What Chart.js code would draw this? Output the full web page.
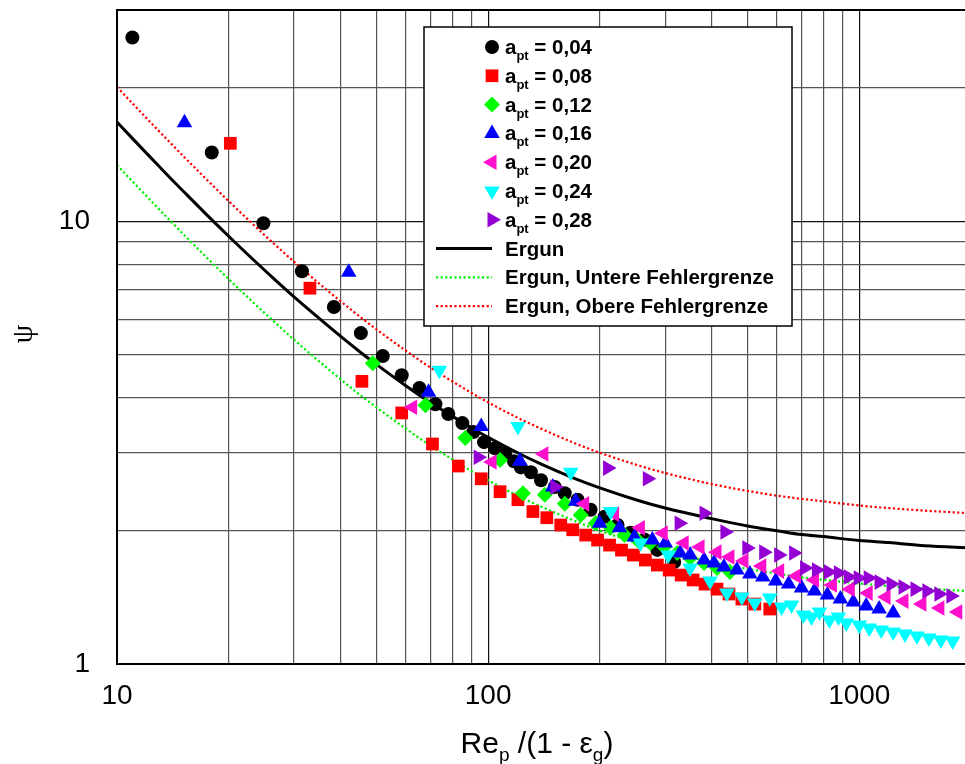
<!DOCTYPE html>
<html>
<head>
<meta charset="utf-8">
<script src="https://cdn.jsdelivr.net/npm/chart.js@4.4.1/dist/chart.umd.min.js"></script>
<style>
html, body { margin: 0; padding: 0; background: #fff; overflow: hidden; }
#wrap { width: 965px; height: 764px; overflow: hidden; }
canvas { display: block; }
</style>
</head>
<body>
<div id="wrap"><canvas id="chart" width="980" height="764"></canvas></div>
<script>
// Druckverlust-Beiwert psi über Re_p/(1 - eps_g)

const re004 = [11.0, 18.0, 24.8, 31.5, 38.4, 45.4, 52.0, 58.5, 65.3, 72.1, 78.1, 85.2, 91.2, 97.5, 104.4, 111.1, 117.4, 122.5, 130.4, 138.8, 151.2, 160.8, 174.2, 188.8, 205.9, 223.2, 241.8, 263.6, 285.6, 317.2];
const psi004 = [26.0, 14.3, 9.9, 7.71, 6.40, 5.59, 4.96, 4.49, 4.20, 3.86, 3.67, 3.50, 3.34, 3.17, 3.07, 2.99, 2.87, 2.78, 2.71, 2.60, 2.51, 2.43, 2.35, 2.23, 2.15, 2.06, 1.98, 1.91, 1.81, 1.70];

const re008 = [20.2, 33.1, 45.7, 58.5, 70.8, 83.1, 95.8, 107.7, 120.3, 132.0, 143.9, 156.9, 169.0, 183.2, 197.2, 212.4, 228.7, 246.3, 265.2, 285.7, 307.5, 331.2, 356.7, 384.2, 413.7, 445.6, 482.7, 523.0, 573.8];
const psi008 = [15.0, 7.06, 4.35, 3.69, 3.14, 2.80, 2.62, 2.45, 2.35, 2.21, 2.14, 2.06, 2.01, 1.955, 1.905, 1.856, 1.808, 1.762, 1.717, 1.673, 1.630, 1.588, 1.548, 1.515, 1.476, 1.439, 1.402, 1.366, 1.331];

const re012 = [48.9, 67.8, 86.8, 107.7, 124.1, 142.2, 160.9, 177.6, 194.8, 213.8, 233.0, 252.5, 273.5, 298.2, 323.1, 350.2, 381.7, 413.7, 448.3];
const psi012 = [4.78, 3.84, 3.24, 2.89, 2.43, 2.41, 2.30, 2.17, 2.08, 2.03, 1.955, 1.905, 1.876, 1.837, 1.781, 1.735, 1.690, 1.647, 1.613];

const re016 = [15.2, 42.1, 69.1, 95.8, 121.8, 149.4, 172.2, 199.7, 225.9, 247.9, 277.0, 300.1, 329.1, 350.2, 381.7, 406.2, 431.9, 468.0, 507.1, 549.6, 595.5, 645.2, 699.0, 757.5, 820.8, 889.3, 963.6, 1044, 1131, 1234];
const psi016 = [16.7, 7.67, 4.11, 3.44, 2.87, 2.51, 2.33, 2.08, 2.03, 1.935, 1.905, 1.876, 1.781, 1.762, 1.717, 1.690, 1.656, 1.630, 1.597, 1.572, 1.540, 1.515, 1.484, 1.461, 1.431, 1.402, 1.380, 1.352, 1.331, 1.304];

const re020 = [62.6, 102.5, 141.3, 182.0, 219.0, 257.2, 296.4, 337.5, 372.4, 413.7, 448.3, 488.7, 546.3, 610.3, 677.7, 757.5, 846.5, 946.0, 1057, 1181, 1320, 1475, 1649, 1842];
const psi020 = [3.80, 2.86, 2.98, 2.30, 2.18, 2.03, 1.975, 1.876, 1.837, 1.789, 1.744, 1.708, 1.664, 1.621, 1.580, 1.548, 1.508, 1.476, 1.446, 1.416, 1.387, 1.366, 1.338, 1.310];

const re024 = [73.9, 120.3, 166.9, 213.8, 257.2, 305.7, 350.2, 396.2, 440.0, 482.7, 523.0, 573.8, 617.9, 657.2, 707.7, 743.5, 781.2, 831.1, 878.5, 922.9, 1000, 1064, 1146, 1234, 1328, 1430, 1540, 1659, 1786];
const psi024 = [4.61, 3.44, 2.71, 2.21, 1.876, 1.762, 1.647, 1.540, 1.446, 1.416, 1.373, 1.409, 1.345, 1.359, 1.290, 1.277, 1.310, 1.257, 1.277, 1.238, 1.225, 1.206, 1.193, 1.181, 1.169, 1.157, 1.145, 1.133, 1.127];

const re028 = [94.0, 151.2, 209.8, 268.5, 327.1, 381.7, 434.5, 497.7, 552.7, 606.5, 665.4, 712.2, 766.7, 826.1, 878.5, 934.3, 993.8, 1057, 1131, 1218, 1312, 1413, 1521, 1639, 1765];
const psi028 = [2.93, 2.51, 2.77, 2.62, 2.08, 2.19, 1.986, 1.827, 1.789, 1.762, 1.781, 1.647, 1.630, 1.613, 1.605, 1.572, 1.564, 1.564, 1.531, 1.515, 1.492, 1.476, 1.461, 1.439, 1.424];

// Ergun-Kurve und Fehlergrenzen
const reErgun = [10, 11, 12, 13, 14, 15, 17, 20, 23, 26, 30, 35, 40, 45, 50, 60, 70, 80, 90, 100, 120, 140, 170, 200, 250, 300, 400, 500, 600, 700, 800, 1000, 1200, 1500, 2000];
const psiErgun = [16.75, 15.39, 14.25, 13.29, 12.46, 11.75, 10.57, 9.25, 8.27, 7.52, 6.75, 6.04, 5.50, 5.08, 4.75, 4.25, 3.89, 3.63, 3.42, 3.25, 3.00, 2.82, 2.63, 2.50, 2.35, 2.25, 2.13, 2.05, 2.00, 1.96, 1.94, 1.90, 1.88, 1.85, 1.83];
const psiUnten = [13.40, 12.31, 11.40, 10.63, 9.97, 9.40, 8.46, 7.40, 6.62, 6.02, 5.40, 4.83, 4.40, 4.06, 3.80, 3.40, 3.11, 2.90, 2.73, 2.60, 2.40, 2.26, 2.11, 2.00, 1.88, 1.80, 1.70, 1.64, 1.60, 1.57, 1.55, 1.52, 1.50, 1.48, 1.46];
const psiOben = [20.10, 18.47, 17.10, 15.95, 14.96, 14.10, 12.69, 11.10, 9.93, 9.02, 8.10, 7.24, 6.60, 6.10, 5.70, 5.10, 4.67, 4.35, 4.10, 3.90, 3.60, 3.39, 3.16, 3.00, 2.82, 2.70, 2.55, 2.46, 2.40, 2.36, 2.33, 2.28, 2.25, 2.22, 2.19];

const xTicks = [10, 20, 30, 40, 50, 60, 70, 80, 90, 100, 200, 300, 400, 500, 600, 700, 800, 900, 1000, 2000];
const xLabels = [10, 100, 1000];
const yTicks = [1, 2, 3, 4, 5, 6, 7, 8, 9, 10, 20, 30];
const yLabels = [1, 10];

const FONT = "'Liberation Sans', Arial, Helvetica, sans-serif";

function pts(xs, ys) {
    return xs.map((x, i) => ({ x: x, y: ys[i] }));
}

// Messreihen: Label, Daten, Farbe, Punktstil
const reihen = [
    { a: '0,04', x: re004, y: psi004, color: '#000000', style: 'circle', r: 7, rot: 0 },
    { a: '0,08', x: re008, y: psi008, color: '#ff0000', style: 'rect', r: 9, rot: 0 },
    { a: '0,12', x: re012, y: psi012, color: '#00ff00', style: 'rectRot', r: 8, rot: 0 },
    { a: '0,16', x: re016, y: psi016, color: '#0000ff', style: 'triangle', r: 9, rot: 0 },
    { a: '0,20', x: re020, y: psi020, color: '#ff10cc', style: 'triangle', r: 9, rot: -90 },
    { a: '0,24', x: re024, y: psi024, color: '#00ffff', style: 'triangle', r: 9, rot: 180 },
    { a: '0,28', x: re028, y: psi028, color: '#9400d3', style: 'triangle', r: 9, rot: 90 }
];

const linien = [
    { label: 'Ergun', y: psiErgun, color: '#000000', width: 3, dash: [] },
    { label: 'Ergun, Untere Fehlergrenze', y: psiUnten, color: '#00ee00', width: 2.2, dash: [2.2, 2.4] },
    { label: 'Ergun, Obere Fehlergrenze', y: psiOben, color: '#ff0000', width: 2.2, dash: [2.2, 2.4] }
];

const datasets = [];
reihen.forEach((s, i) => {
    datasets.push({
        label: 'a_pt = ' + s.a,
        data: pts(s.x, s.y),
        showLine: false,
        pointStyle: s.style,
        pointRadius: s.r,
        pointRotation: s.rot,
        pointBackgroundColor: s.color,
        pointBorderColor: s.color,
        pointBorderWidth: 0,
        order: 10 - i
    });
});
linien.forEach((l, i) => {
    datasets.push({
        label: l.label,
        data: pts(reErgun, l.y),
        showLine: true,
        pointRadius: 0,
        borderColor: l.color,
        borderWidth: l.width,
        borderDash: l.dash,
        cubicInterpolationMode: 'monotone',
        order: 20 + i
    });
});

// Rahmen, Legende und Achsentitel (mit Indizes)
const zeichnen = {
    id: 'zeichnen',
    afterDraw(chart) {
        const ctx = chart.ctx;
        const a = chart.chartArea;
        ctx.save();

        ctx.strokeStyle = '#000';
        ctx.lineWidth = 2;
        ctx.strokeRect(a.left, a.top, a.right - a.left, a.bottom - a.top);

        // Legende
        const bx = 424, by = 27, bw = 368, bh = 299;
        ctx.fillStyle = '#fff';
        ctx.fillRect(bx, by, bw, bh);
        ctx.strokeStyle = '#000';
        ctx.lineWidth = 1.5;
        ctx.strokeRect(bx, by, bw, bh);

        const mx = 492, tx = 505, y0 = 47, dy = 28.8;
        const legFont = 'bold 20.5px ' + FONT;
        ctx.textBaseline = 'alphabetic';
        ctx.textAlign = 'left';
        reihen.forEach((s, i) => {
            const y = y0 + i * dy;
            ctx.fillStyle = s.color;
            ctx.strokeStyle = s.color;
            Chart.helpers.drawPoint(ctx, { pointStyle: s.style, radius: s.r, rotation: s.rot, borderWidth: 0 }, mx, y);
            ctx.fillStyle = '#000';
            ctx.font = legFont;
            ctx.fillText('a', tx, y + 7);
            let w = ctx.measureText('a').width;
            ctx.font = 'bold 13px ' + FONT;
            ctx.fillText('pt', tx + w, y + 13);
            w += ctx.measureText('pt').width;
            ctx.font = legFont;
            ctx.fillText(' = ' + s.a, tx + w, y + 7);
        });
        linien.forEach((l, i) => {
            const y = y0 + (7 + i) * dy;
            ctx.strokeStyle = l.color;
            ctx.lineWidth = l.width;
            ctx.setLineDash(l.dash);
            ctx.beginPath();
            ctx.moveTo(436, y);
            ctx.lineTo(492, y);
            ctx.stroke();
            ctx.setLineDash([]);
            ctx.fillStyle = '#000';
            ctx.font = legFont;
            ctx.fillText(l.label, tx, y + 7);
        });

        // x-Achsentitel: Re_p /(1 - ε_g)
        const teile = [
            ['Re', 30, 0], ['p', 19, 8], [' /(1 - ε', 30, 0], ['g', 19, 8], [')', 30, 0]
        ];
        let gesamt = 0;
        teile.forEach(t => { ctx.font = t[1] + 'px ' + FONT; gesamt += ctx.measureText(t[0]).width; });
        let x = 537 - gesamt / 2;
        ctx.fillStyle = '#000';
        teile.forEach(t => {
            ctx.font = t[1] + 'px ' + FONT;
            ctx.fillText(t[0], x, 753 + t[2]);
            x += ctx.measureText(t[0]).width;
        });

        // y-Achsentitel: ψ
        ctx.translate(24, 334);
        ctx.rotate(-Math.PI / 2);
        ctx.textAlign = 'center';
        ctx.textBaseline = 'middle';
        ctx.font = '30px "Liberation Serif", serif';
        ctx.fillText('ψ', 0, 0);
        ctx.restore();
    }
};

function gridFarbe(haupt) {
    return ctx => (ctx.tick && haupt.includes(ctx.tick.value)) ? '#111' : '#555';
}

function ohneRand(scale) {
    scale.paddingLeft = 0;
    scale.paddingRight = 0;
    scale.paddingTop = 0;
    scale.paddingBottom = 0;
}

new Chart(document.getElementById('chart'), {
    type: 'scatter',
    data: { datasets: datasets },
    options: {
        responsive: false,
        animation: false,
        layout: { padding: { top: 10, right: 5, left: 0, bottom: 0 } },
        plugins: {
            legend: { display: false },
            tooltip: { enabled: false }
        },
        scales: {
            x: {
                type: 'logarithmic',
                min: 10,
                max: 2000,
                afterBuildTicks: scale => { scale.ticks = xTicks.map(v => ({ value: v })); },
                afterFit: scale => { scale.height = 100; ohneRand(scale); },
                grid: { color: gridFarbe(xLabels), lineWidth: 1.2, drawTicks: false },
                border: { display: false },
                ticks: {
                    autoSkip: false,
                    maxRotation: 0,
                    padding: 15,
                    color: '#000',
                    font: { family: FONT, size: 28 },
                    callback: v => xLabels.includes(v) ? String(v) : ''
                }
            },
            y: {
                type: 'logarithmic',
                min: 1,
                max: 30,
                afterBuildTicks: scale => { scale.ticks = yTicks.map(v => ({ value: v })); },
                afterFit: scale => { scale.width = 117; ohneRand(scale); },
                grid: { color: gridFarbe(yLabels), lineWidth: 1.2, drawTicks: false },
                border: { display: false },
                ticks: {
                    autoSkip: false,
                    padding: 27,
                    color: '#000',
                    font: { family: FONT, size: 28 },
                    callback: v => yLabels.includes(v) ? String(v) : ''
                }
            }
        }
    },
    plugins: [zeichnen]
});
</script>
</body>
</html>
